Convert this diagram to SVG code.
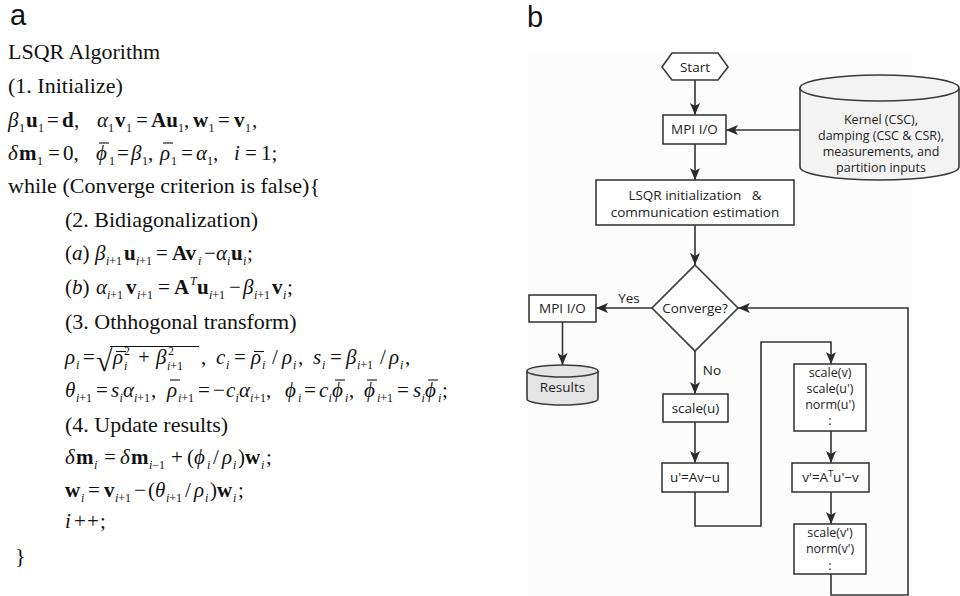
<svg xmlns="http://www.w3.org/2000/svg" width="960" height="596" viewBox="0 0 960 596">
<style>
.m{font-family:'Liberation Serif','DejaVu Serif',serif;font-size:22px;fill:#111}
.q{font-size:21px}
.it{font-style:italic}
.b{font-weight:bold}
.s{font-size:12px}
.lab{font-family:'Liberation Sans',Arial,sans-serif;font-size:29px;fill:#111}
.fc{font-family:'Open Sans','Noto Sans',sans-serif;font-size:13.5px;fill:#222;text-anchor:middle}
.sv{font-size:12.5px}
.box{fill:#fff;stroke:#3a3a3a;stroke-width:1.6}
.ln{fill:none;stroke:#333;stroke-width:1.6}
.bar{stroke:#111;stroke-width:1.1}
</style>
<defs>
<marker id="ah" markerUnits="userSpaceOnUse" markerWidth="12" markerHeight="10" refX="12" refY="5" orient="auto">
<path d="M0,0 L12,5 L0,10 L3,5 Z" fill="#2a2a2a"/>
</marker>
</defs>
<rect width="960" height="596" fill="#fff"/>

<g id="panel-a">
<text class="lab" x="10" y="25">a</text>
<text class="m" x="8" y="59">LSQR Algorithm</text>
<text class="m" x="8" y="93">(1. Initialize)</text>
<text class="m q"><tspan x="8" y="127" class="it">β</tspan><tspan x="19" y="132" class="s">1</tspan><tspan x="26" y="127" class="b">u</tspan><tspan x="38" y="132" class="s">1</tspan><tspan x="47" y="127">=</tspan><tspan x="62" y="127" class="b">d</tspan><tspan x="74" y="127">,</tspan><tspan x="97" y="127" class="it">α</tspan><tspan x="108" y="132" class="s">1</tspan><tspan x="115" y="127" class="b">v</tspan><tspan x="126" y="132" class="s">1</tspan><tspan x="136" y="127">=</tspan><tspan x="151" y="127" class="b">Au</tspan><tspan x="178" y="132" class="s">1</tspan><tspan x="184" y="127">,</tspan><tspan x="193" y="127" class="b">w</tspan><tspan x="208.5" y="132" class="s">1</tspan><tspan x="218" y="127">=</tspan><tspan x="234" y="127" class="b">v</tspan><tspan x="245" y="132" class="s">1</tspan><tspan x="252" y="127">,</tspan></text>
<text class="m q"><tspan x="8" y="160" class="it">δ</tspan><tspan x="19" y="160" class="b">m</tspan><tspan x="37" y="165" class="s">1</tspan><tspan x="48" y="160">=</tspan><tspan x="63" y="160">0,</tspan><tspan x="96" y="160" class="it">ϕ</tspan><tspan x="109" y="165" class="s">1</tspan><tspan x="117" y="160">=</tspan><tspan x="131" y="160" class="it">β</tspan><tspan x="142" y="165" class="s">1</tspan><tspan x="148" y="160">,</tspan><tspan x="160" y="160" class="it">ρ</tspan><tspan x="171" y="165" class="s">1</tspan><tspan x="181" y="160">=</tspan><tspan x="196" y="160" class="it">α</tspan><tspan x="207" y="165" class="s">1</tspan><tspan x="213" y="160">,</tspan><tspan x="234" y="160" class="it">i</tspan><tspan x="245" y="160">=</tspan><tspan x="261" y="160">1;</tspan></text>
<line class="bar" x1="99" y1="143" x2="109" y2="143"/>
<line class="bar" x1="163" y1="143" x2="173" y2="143"/>
<text class="m" x="8" y="193">while (Converge criterion is false){</text>
<text class="m" x="65" y="227">(2. Bidiagonalization)</text>
<text class="m q"><tspan x="65" y="260">(</tspan><tspan class="it">a</tspan><tspan>)</tspan><tspan x="95" y="260" class="it">β</tspan><tspan x="106" y="265" class="s it">i</tspan><tspan class="s">+1</tspan><tspan x="124" y="260" class="b">u</tspan><tspan x="136" y="265" class="s it">i</tspan><tspan class="s">+1</tspan><tspan x="156" y="260">=</tspan><tspan x="172" y="260" class="b">Av</tspan><tspan x="198" y="265" class="s it">i</tspan><tspan x="204" y="260">−</tspan><tspan x="216" y="260" class="it">α</tspan><tspan x="227" y="265" class="s it">i</tspan><tspan x="231" y="260" class="b">u</tspan><tspan x="243" y="265" class="s it">i</tspan><tspan x="247" y="260">;</tspan></text>
<text class="m q"><tspan x="65" y="294">(</tspan><tspan class="it">b</tspan><tspan>)</tspan><tspan x="96" y="294" class="it">α</tspan><tspan x="107" y="299" class="s it">i</tspan><tspan class="s">+1</tspan><tspan x="126" y="294" class="b">v</tspan><tspan x="137" y="299" class="s it">i</tspan><tspan class="s">+1</tspan><tspan x="158" y="294">=</tspan><tspan x="174" y="294" class="b">A</tspan><tspan x="190" y="285" class="s it">T</tspan><tspan x="197" y="294" class="b">u</tspan><tspan x="209" y="299" class="s it">i</tspan><tspan class="s">+1</tspan><tspan x="229" y="294">−</tspan><tspan x="243" y="294" class="it">β</tspan><tspan x="254" y="299" class="s it">i</tspan><tspan class="s">+1</tspan><tspan x="272" y="294" class="b">v</tspan><tspan x="283" y="299" class="s it">i</tspan><tspan x="287" y="294">;</tspan></text>
<text class="m" x="65" y="329">(3. Othhogonal transform)</text>
<text class="m q"><tspan x="65" y="364" class="it">ρ</tspan><tspan x="76" y="369" class="s it">i</tspan><tspan x="83" y="364">=</tspan><tspan x="96" y="371" style="font-size:30px">√</tspan><tspan x="113" y="364" class="it">ρ</tspan><tspan x="124" y="355" class="s">2</tspan><tspan x="124" y="370" class="s it">i</tspan><tspan x="138" y="364">+</tspan><tspan x="156" y="364" class="it">β</tspan><tspan x="168" y="355" class="s">2</tspan><tspan x="167" y="370" class="s it">i</tspan><tspan class="s">+1</tspan><tspan x="201" y="364">,</tspan><tspan x="216" y="364" class="it">c</tspan><tspan x="226" y="369" class="s it">i</tspan><tspan x="234" y="364">=</tspan><tspan x="251" y="364" class="it">ρ</tspan><tspan x="262" y="369" class="s it">i</tspan><tspan x="272" y="364">/</tspan><tspan x="282" y="364" class="it">ρ</tspan><tspan x="293" y="369" class="s it">i</tspan><tspan x="298" y="364">,</tspan><tspan x="313" y="364" class="it">s</tspan><tspan x="322" y="369" class="s it">i</tspan><tspan x="330" y="364">=</tspan><tspan x="346" y="364" class="it">β</tspan><tspan x="357" y="369" class="s it">i</tspan><tspan class="s">+1</tspan><tspan x="380" y="364">/</tspan><tspan x="389" y="364" class="it">ρ</tspan><tspan x="400" y="369" class="s it">i</tspan><tspan x="405" y="364">,</tspan></text>
<line class="bar" x1="110" y1="346.5" x2="199" y2="346.5"/>
<line class="bar" x1="116" y1="351.5" x2="126" y2="351.5"/>
<line class="bar" x1="254" y1="351.5" x2="264" y2="351.5"/>
<text class="m q"><tspan x="65" y="397" class="it">θ</tspan><tspan x="76" y="402" class="s it">i</tspan><tspan class="s">+1</tspan><tspan x="96" y="397">=</tspan><tspan x="111" y="397" class="it">s</tspan><tspan x="119.5" y="402" class="s it">i</tspan><tspan x="123" y="397" class="it">α</tspan><tspan x="134" y="402" class="s it">i</tspan><tspan class="s">+1</tspan><tspan x="151" y="397">,</tspan><tspan x="167" y="397" class="it">ρ</tspan><tspan x="178" y="402" class="s it">i</tspan><tspan class="s">+1</tspan><tspan x="198" y="397">=</tspan><tspan x="213" y="397">−</tspan><tspan x="226" y="397" class="it">c</tspan><tspan x="235.5" y="402" class="s it">i</tspan><tspan x="239" y="397" class="it">α</tspan><tspan x="250" y="402" class="s it">i</tspan><tspan class="s">+1</tspan><tspan x="266" y="397">,</tspan><tspan x="285" y="397" class="it">ϕ</tspan><tspan x="298" y="402" class="s it">i</tspan><tspan x="304" y="397">=</tspan><tspan x="319" y="397" class="it">c</tspan><tspan x="328.5" y="402" class="s it">i</tspan><tspan x="332" y="397" class="it">ϕ</tspan><tspan x="345" y="402" class="s it">i</tspan><tspan x="349" y="397">,</tspan><tspan x="364" y="397" class="it">ϕ</tspan><tspan x="377" y="402" class="s it">i</tspan><tspan class="s">+1</tspan><tspan x="397" y="397">=</tspan><tspan x="413" y="397" class="it">s</tspan><tspan x="421.5" y="402" class="s it">i</tspan><tspan x="425" y="397" class="it">ϕ</tspan><tspan x="438" y="402" class="s it">i</tspan><tspan x="442" y="397">;</tspan></text>
<line class="bar" x1="170" y1="380" x2="180" y2="380"/>
<line class="bar" x1="335" y1="380" x2="345" y2="380"/>
<line class="bar" x1="367" y1="380" x2="377" y2="380"/>
<line class="bar" x1="428" y1="380" x2="438" y2="380"/>
<text class="m" x="65" y="432">(4. Update results)</text>
<text class="m q"><tspan x="65" y="464" class="it">δ</tspan><tspan x="76" y="464" class="b">m</tspan><tspan x="94" y="469" class="s it">i</tspan><tspan x="104" y="464">=</tspan><tspan x="120" y="464" class="it">δ</tspan><tspan x="131" y="464" class="b">m</tspan><tspan x="149" y="469" class="s it">i</tspan><tspan class="s">−1</tspan><tspan x="171" y="464">+</tspan><tspan x="187" y="464">(</tspan><tspan x="194" y="464" class="it">ϕ</tspan><tspan x="207" y="469" class="s it">i</tspan><tspan x="213" y="464">/</tspan><tspan x="222" y="464" class="it">ρ</tspan><tspan x="233" y="469" class="s it">i</tspan><tspan x="238" y="464">)</tspan><tspan x="245" y="464" class="b">w</tspan><tspan x="261" y="469" class="s it">i</tspan><tspan x="266" y="464">;</tspan></text>
<text class="m q"><tspan x="65" y="497" class="b">w</tspan><tspan x="81" y="502" class="s it">i</tspan><tspan x="88" y="497">=</tspan><tspan x="104" y="497" class="b">v</tspan><tspan x="115" y="502" class="s it">i</tspan><tspan class="s">+1</tspan><tspan x="134" y="497">−</tspan><tspan x="148" y="497">(</tspan><tspan x="155" y="497" class="it">θ</tspan><tspan x="166" y="502" class="s it">i</tspan><tspan class="s">+1</tspan><tspan x="185" y="497">/</tspan><tspan x="194" y="497" class="it">ρ</tspan><tspan x="205" y="502" class="s it">i</tspan><tspan x="210" y="497">)</tspan><tspan x="217" y="497" class="b">w</tspan><tspan x="233" y="502" class="s it">i</tspan><tspan x="238" y="497">;</tspan></text>
<text class="m q"><tspan x="65" y="528" class="it">i</tspan><tspan x="74" y="528">+</tspan><tspan x="87" y="528">+</tspan><tspan x="100" y="528">;</tspan></text>
<text class="m" x="15" y="563">}</text>
</g>

<text class="lab" x="527" y="27">b</text>
<rect x="527" y="52" width="385" height="544" fill="#fcfcfc"/>

<g id="connectors">
<line class="ln" x1="695" y1="80" x2="695" y2="115" marker-end="url(#ah)"/>
<line class="ln" x1="800" y1="130" x2="726" y2="130" marker-end="url(#ah)"/>
<line class="ln" x1="695" y1="144" x2="695" y2="180" marker-end="url(#ah)"/>
<line class="ln" x1="695" y1="225" x2="695" y2="265" marker-end="url(#ah)"/>
<line class="ln" x1="652" y1="308" x2="596" y2="308" marker-end="url(#ah)"/>
<text class="fc" x="629" y="303">Yes</text>
<line class="ln" x1="562.5" y1="322" x2="562.5" y2="365" marker-end="url(#ah)"/>
<line class="ln" x1="695" y1="351" x2="695" y2="394" marker-end="url(#ah)"/>
<text class="fc" x="712" y="375">No</text>
<line class="ln" x1="695" y1="422" x2="695" y2="463" marker-end="url(#ah)"/>
<polyline class="ln" points="695,492 695,526 761,526 761,342 831,342 831,364" marker-end="url(#ah)"/>
<line class="ln" x1="831" y1="431" x2="831" y2="463" marker-end="url(#ah)"/>
<line class="ln" x1="831" y1="492" x2="831" y2="524" marker-end="url(#ah)"/>
<polyline class="ln" points="831,574 831,595 908,595 908,308 738,308" marker-end="url(#ah)"/>
</g>

<g id="start">
<polygon class="box" points="662,67 672,53 718,53 728,67 718,80 672,80"/>
<text class="fc" x="695" y="71.5">Start</text>
</g>
<g id="mpi-io-in">
<rect class="box" x="663" y="115" width="63" height="29"/>
<text class="fc" x="694.5" y="134">MPI I/O</text>
</g>
<g id="inputs">
<path d="M800,88 A79.5,13 0 0,1 959,88 L959,167 A79.5,13 0 0,1 800,167 Z" fill="#f3f3f3" stroke="#3a3a3a" stroke-width="1.6"/>
<path d="M800,88 A79.5,13 0 0,0 959,88" fill="none" stroke="#3a3a3a" stroke-width="1.6"/>
<text class="fc sv" x="881" y="124">Kernel (CSC),</text>
<text class="fc sv" x="881" y="140">damping (CSC &amp; CSR),</text>
<text class="fc sv" x="881" y="156">measurements, and</text>
<text class="fc sv" x="881" y="172">partition inputs</text>
</g>
<g id="lsqr-init">
<rect class="box" x="596" y="180" width="198" height="45"/>
<text class="fc" x="695" y="200" xml:space="preserve">LSQR initialization   &amp;</text>
<text class="fc" x="695" y="217">communication estimation</text>
</g>
<g id="converge">
<polygon class="box" points="695,265 738,308 695,351 652,308"/>
<text class="fc" x="695" y="312.5">Converge?</text>
</g>
<g id="mpi-io-out">
<rect class="box" x="529" y="295" width="67" height="27"/>
<text class="fc" x="562.5" y="313">MPI I/O</text>
</g>
<g id="results">
<path d="M527,371 A35.5,6 0 0,1 598,371 L598,399 A35.5,6 0 0,1 527,399 Z" fill="#e4e4e4" stroke="#3a3a3a" stroke-width="1.6"/>
<path d="M527,371 A35.5,6 0 0,0 598,371" fill="none" stroke="#3a3a3a" stroke-width="1.6"/>
<text class="fc" x="562.5" y="392">Results</text>
</g>
<g id="scale-u">
<rect class="box" x="663" y="394" width="65" height="28"/>
<text class="fc" x="695.5" y="413">scale(u)</text>
</g>
<g id="u-prime">
<rect class="box" x="662" y="463" width="66" height="29"/>
<text class="fc" x="695" y="482">u'=Av−u</text>
</g>
<g id="scale-v">
<rect class="box" x="794" y="364" width="72" height="67"/>
<text class="fc sv" x="830" y="377">scale(v)</text>
<text class="fc sv" x="830" y="393">scale(u')</text>
<text class="fc sv" x="830" y="409">norm(u')</text>
<text class="fc sv" x="830" y="425">:</text>
</g>
<g id="v-prime">
<rect class="box" x="792" y="463" width="77" height="29"/>
<text class="fc" x="830.5" y="482">v'=A<tspan dy="-5" style="font-size:9px">T</tspan><tspan dy="5">u'−v</tspan></text>
</g>
<g id="scale-v-prime">
<rect class="box" x="794" y="524" width="72" height="50"/>
<text class="fc sv" x="830" y="537">scale(v')</text>
<text class="fc sv" x="830" y="553">norm(v')</text>
<text class="fc sv" x="830" y="570">:</text>
</g>
</svg>
